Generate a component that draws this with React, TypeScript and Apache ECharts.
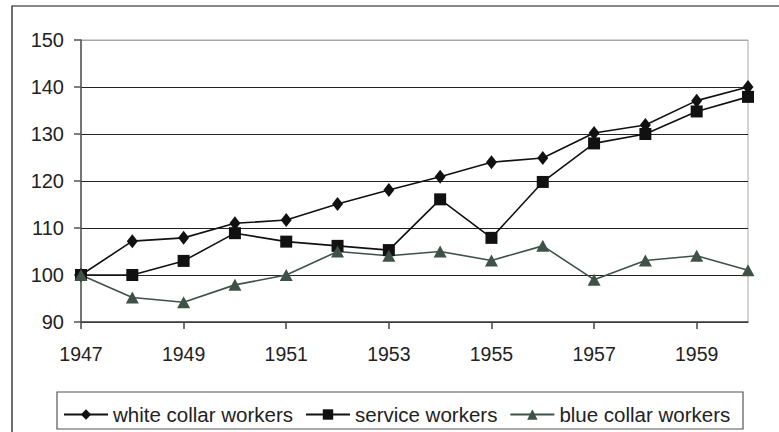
import React, { useEffect, useRef } from "react";
import * as echarts from "echarts";

const years = ["1947","1948","1949","1950","1951","1952","1953","1954","1955","1956","1957","1958","1959","1960"];
const whiteCollar = [100, 107.2, 107.9, 111, 111.7, 115.1, 118.1, 120.9, 124, 124.9, 130.2, 131.9, 137.1, 140];
const serviceWorkers = [100, 100, 103, 108.9, 107.1, 106.2, 105.3, 116.1, 107.9, 119.8, 128, 130, 134.8, 137.9];
const blueCollar = [100, 95.2, 94.2, 97.9, 100, 105, 104.1, 105, 103.1, 106.2, 99, 103.1, 104.1, 101];
const seriesNames = ["white collar workers", "service workers", "blue collar workers"];

const FONT = "'Liberation Sans', Arial, sans-serif";

export default function App() {
  const ref = useRef<HTMLDivElement>(null);
  useEffect(() => {
    if (!ref.current) return;
    const chart = echarts.init(ref.current, null, { renderer: "svg" });
    const black = "#111111";
    const blue = "#3f5248";
    chart.setOption({
      animation: false,
      backgroundColor: "#ffffff",
      grid: {
        left: 81, right: 31, top: 40, bottom: 110,
        show: true, borderColor: "#a8a8a8", borderWidth: 1,
      },
      xAxis: {
        type: "category",
        data: years,
        boundaryGap: false,
        axisLine: { lineStyle: { color: "#444", width: 1.5 } },
        axisTick: { show: true, interval: 1, length: 7, lineStyle: { color: "#444", width: 1.5 } },
        axisLabel: { interval: 1, margin: 22, fontSize: 19.5, color: "#222", fontFamily: FONT },
        splitLine: { show: false },
      },
      yAxis: {
        type: "value",
        min: 90, max: 150, interval: 10,
        axisLine: { show: true, lineStyle: { color: "#555", width: 1.5 } },
        axisTick: { show: true, length: 7, lineStyle: { color: "#555", width: 1.5 } },
        axisLabel: { margin: 17, fontSize: 20, color: "#222", fontFamily: FONT },
        splitLine: {
          show: true,
          lineStyle: { color: ["#222", "#222", "#222", "#222", "#222", "#222", "#a8a8a8"], width: 1.2 },
        },
      },
      legend: {
        left: 58, top: 399,
        itemWidth: 44, itemHeight: 13, itemGap: 12,
        textStyle: { fontSize: 20.5, color: "#222", fontFamily: FONT },
        data: seriesNames,
      },
      graphic: [
        { type: "rect", shape: { x: 12, y: 6, width: 900, height: 600 }, style: { fill: "none", stroke: "#111", lineWidth: 1.2 }, silent: true },
        { type: "rect", shape: { x: 57, y: 392, width: 686, height: 37 }, style: { fill: "none", stroke: "#555", lineWidth: 1.2 }, silent: true },
      ],
      series: [
        {
          name: seriesNames[0], type: "line", data: whiteCollar,
          symbol: "diamond", symbolSize: [11, 14],
          lineStyle: { color: black, width: 1.6 }, itemStyle: { color: black },
        },
        {
          name: seriesNames[1], type: "line", data: serviceWorkers,
          symbol: "rect", symbolSize: 12,
          lineStyle: { color: black, width: 1.6 }, itemStyle: { color: black },
        },
        {
          name: seriesNames[2], type: "line", data: blueCollar,
          symbol: "triangle", symbolSize: [13, 12],
          lineStyle: { color: blue, width: 1.6 }, itemStyle: { color: blue },
        },
      ],
    });
    return () => chart.dispose();
  }, []);
  return <div ref={ref} style={{ position: "fixed", left: 0, top: 0, width: 779, height: 432 }} />;
}
